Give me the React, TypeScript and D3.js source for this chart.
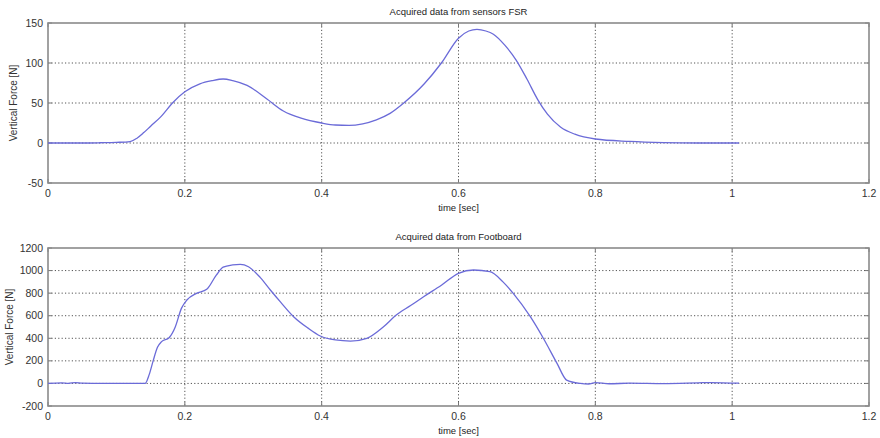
import React from "react";
import * as d3 from "d3";

// time axis shared by both panels
const xTicks = [0, 0.2, 0.4, 0.6, 0.8, 1, 1.2];

// FSR sensors (top panel)
const fsrTime = [0, 0.05, 0.076, 0.1, 0.12, 0.13, 0.14, 0.15, 0.164, 0.183, 0.2, 0.222, 0.24, 0.256, 0.27, 0.291, 0.32, 0.344, 0.37, 0.4, 0.42, 0.44, 0.46, 0.48, 0.5, 0.52, 0.55, 0.575, 0.6, 0.615, 0.627, 0.64, 0.651, 0.668, 0.684, 0.7, 0.716, 0.73, 0.749, 0.77, 0.8, 0.85, 0.9, 0.95, 1.01];
const fsrForce = [0, 0, 0.3, 0.8, 1.8, 6, 13, 21, 32, 51, 64, 74, 78, 80, 78, 72, 55, 40, 31, 25, 22.5, 22, 24, 29, 37, 50, 74, 100, 131, 140, 142, 140, 136, 122, 104, 80, 54, 36, 20, 11, 5, 2, 0.5, 0, 0];
const fsrYTicks = [-50, 0, 50, 100, 150];

// Footboard (bottom panel)
const footTime = [0, 0.02, 0.03, 0.04, 0.05, 0.08, 0.142, 0.148, 0.154, 0.16, 0.166, 0.177, 0.186, 0.195, 0.203, 0.217, 0.232, 0.246, 0.256, 0.27, 0.281, 0.293, 0.31, 0.325, 0.34, 0.359, 0.38, 0.398, 0.42, 0.442, 0.466, 0.49, 0.509, 0.53, 0.549, 0.575, 0.6, 0.622, 0.646, 0.665, 0.68, 0.705, 0.724, 0.744, 0.758, 0.778, 0.79, 0.8, 0.82, 0.85, 0.9, 0.95, 0.97, 1.01];
const footForce = [0, 5, 0, 8, 2, 0, 0, 80, 207, 320, 370, 405, 500, 665, 739, 798, 834, 960, 1030, 1050, 1055, 1034, 940, 828, 720, 591, 490, 420, 385, 375, 400, 500, 606, 690, 768, 870, 976, 1005, 990, 900, 798, 591, 400, 178, 30, 0, -5, 8, -3, 2, -2, 5, 8, 2];
const footYTicks = [-200, 0, 200, 400, 600, 800, 1000, 1200];

const LINE = "#6b6bd8";
const FONT = "'Liberation Sans', Arial, sans-serif";

type PanelProps = {
  top: number;
  bottom: number;
  title: string;
  time: number[];
  force: number[];
  yTicks: number[];
  ylabelX: number;
};

const left = 48;
const right = 869;

const Panel = ({ top, bottom, title, time, force, yTicks, ylabelX }: PanelProps) => {
  const x = d3.scaleLinear().domain([0, 1.2]).range([left, right]);
  const y = d3
    .scaleLinear()
    .domain([yTicks[0], yTicks[yTicks.length - 1]])
    .range([bottom, top]);

  const line = d3
    .line<number>()
    .x((_, i) => x(time[i]))
    .y((d) => y(d))
    .curve(d3.curveMonotoneX);

  const tick = 4;
  return (
    <g>
      {/* grid */}
      {xTicks.slice(1, -1).map((t) => (
        <line key={"gx" + t} x1={x(t)} x2={x(t)} y1={top} y2={bottom} stroke="#555" strokeWidth={1} strokeDasharray="1.2,2.2" />
      ))}
      {yTicks.slice(1, -1).map((t) => (
        <line key={"gy" + t} x1={left} x2={right} y1={y(t)} y2={y(t)} stroke="#555" strokeWidth={1} strokeDasharray="1.2,2.2" />
      ))}
      {/* inner ticks */}
      {xTicks.map((t) => (
        <g key={"tx" + t}>
          <line x1={x(t)} x2={x(t)} y1={bottom} y2={bottom - tick} stroke="#777" />
          <line x1={x(t)} x2={x(t)} y1={top} y2={top + tick} stroke="#777" />
        </g>
      ))}
      {yTicks.map((t) => (
        <g key={"ty" + t}>
          <line x1={left} x2={left + tick} y1={y(t)} y2={y(t)} stroke="#777" />
          <line x1={right} x2={right - tick} y1={y(t)} y2={y(t)} stroke="#777" />
        </g>
      ))}
      <rect x={left} y={top} width={right - left} height={bottom - top} fill="none" stroke="#8a8a8a" strokeWidth={1.6} />
      <path d={line(force) || ""} fill="none" stroke={LINE} strokeWidth={1.3} />
      {/* tick labels */}
      {xTicks.map((t) => (
        <text key={"lx" + t} x={x(t)} y={bottom + 14} textAnchor="middle" fontSize={10.5} fill="#333" fontFamily={FONT}>
          {d3.format("~g")(t)}
        </text>
      ))}
      {yTicks.map((t) => (
        <text key={"ly" + t} x={left - 5} y={y(t) + 3.5} textAnchor="end" fontSize={10.5} fill="#333" fontFamily={FONT}>
          {t}
        </text>
      ))}
      <text x={(left + right) / 2} y={top - 8} textAnchor="middle" fontSize={9.5} fill="#222" fontFamily={FONT}>
        {title}
      </text>
      <text x={(left + right) / 2} y={bottom + 28} textAnchor="middle" fontSize={9.5} fill="#222" fontFamily={FONT}>
        time [sec]
      </text>
      <text
        transform={`translate(${ylabelX},${(top + bottom) / 2}) rotate(-90)`}
        textAnchor="middle"
        fontSize={10}
        fill="#333"
        fontFamily={FONT}
      >
        Vertical Force [N]
      </text>
    </g>
  );
};

export default function App() {
  return (
    <svg width={880} height={438} style={{ position: "absolute", left: 0, top: 0, background: "#fff" }}>
      <rect width={880} height={438} fill="#fff" />
      <Panel top={23} bottom={183} title="Acquired data from sensors FSR" time={fsrTime} force={fsrForce} yTicks={fsrYTicks} ylabelX={17} />
      <Panel top={248} bottom={406} title="Acquired data from Footboard" time={footTime} force={footForce} yTicks={footYTicks} ylabelX={13} />
    </svg>
  );
}
